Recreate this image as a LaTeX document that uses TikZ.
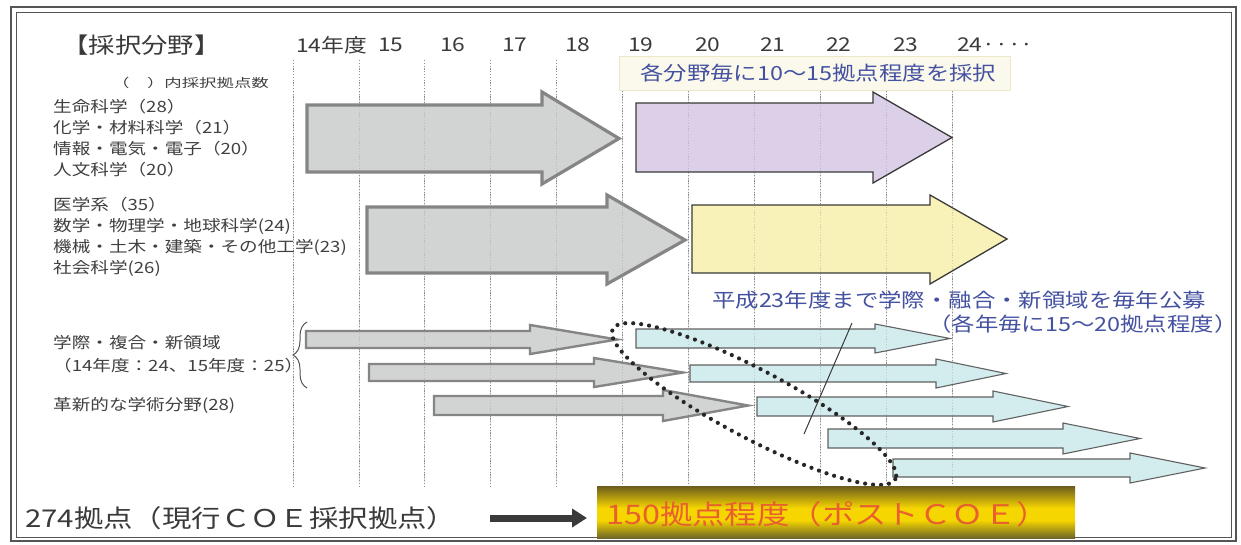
\documentclass[tikz,border=0pt]{standalone}
\usepackage{fontspec}
\setmainfont{Noto Sans CJK JP}[FakeStretch=1.2]
\newfontfamily\widenote{Noto Sans CJK JP}[FakeStretch=1.45]
\usetikzlibrary{decorations.pathreplacing,arrows.meta}
\definecolor{frameC}{HTML}{555555}
\definecolor{gridC}{HTML}{8E8E8E}
\definecolor{grayFill}{HTML}{D2D4D4}
\definecolor{grayLine}{HTML}{858585}
\definecolor{purpFill}{HTML}{DCCFE8}
\definecolor{yelFill}{HTML}{F8F1B8}
\definecolor{cyanFill}{HTML}{D3ECEE}
\definecolor{darkLine}{HTML}{3A3A3A}
\definecolor{blueTxt}{HTML}{4451A0}
\definecolor{txtC}{HTML}{404040}
\definecolor{goldTxt}{HTML}{E8602E}
\definecolor{creamFill}{HTML}{FBF9EC}
\definecolor{creamLine}{HTML}{ECE7C6}
\definecolor{gB}{HTML}{6F6628}
\definecolor{gY}{HTML}{F6D600}
\definecolor{gT}{HTML}{6B5C1C}
% #1 style, #2 x0, #3 top, #4 bottom, #5 head base x, #6 head top, #7 head bottom, #8 tip x
\newcommand{\blockarrow}[8]{\draw[#1] (#2,#3) -- (#5,#3) -- (#5,#6) -- (#8,{(#3+#4)/2}) -- (#5,#7) -- (#5,#4) -- (#2,#4) -- cycle;}
\tikzset{
  grid line/.style={draw=gridC, line width=0.8pt, dash pattern=on 1.2pt off 1.6pt},
  big gray/.style={fill=grayFill, draw=grayLine, line width=3.2pt, line join=miter},
  thin gray/.style={fill=grayFill, draw=grayLine, line width=2.4pt, line join=miter},
  purple arrow/.style={fill=purpFill, draw=darkLine, line width=1.3pt},
  yellow arrow/.style={fill=yelFill, draw=darkLine, line width=1.3pt},
  cyan arrow/.style={fill=cyanFill, draw=darkLine!80, line width=1.1pt},
  hdr/.style={font=\fontsize{22}{22}\selectfont, text=darkLine, inner sep=0pt, anchor=west},
  yr/.style={font=\fontsize{19}{19}\selectfont, text=darkLine, inner sep=0pt, anchor=west},
  lst/.style={font=\fontsize{15.5}{15.5}\selectfont, text=txtC, inner sep=0pt, anchor=west},
  note/.style={font=\widenote\fontsize{12}{12}\selectfont, text=txtC, inner sep=0pt, anchor=west},
  bluetxt/.style={font=\fontsize{19.5}{19.5}\selectfont, text=blueTxt, inner sep=0pt, anchor=west},
  bigtxt/.style={font=\fontsize{24.5}{24.5}\selectfont, text=darkLine, inner sep=0pt, anchor=west},
  goldtxt/.style={font=\fontsize{27}{27}\selectfont, text=goldTxt, inner sep=0pt, anchor=west},
  dotted ring/.style={draw=black!85, line width=4.2pt, line cap=round, dash pattern=on 0pt off 8pt},
}
\begin{document}
\begin{tikzpicture}[x=1pt,y=-1pt]
\useasboundingbox (0,0) rectangle (1241,544);
\fill[white] (0,0) rectangle (1241,544);
% frame
\draw[frameC, line width=1.3pt] (11,7) rectangle (1236,541);
\draw[frameC, line width=0.8pt] (16,12) rectangle (1231,537);
% grid lines
\foreach \k in {0,...,10} {
  \draw[grid line] ({293+65.9*\k},60) -- ({293+65.9*\k},487);
}
% header
\node[hdr] (hdr) at (62,45) {【採択分野】};
\node[yr] (y14) at (296,45) {14年度};
\node[yr] (y15) at (378,45) {15};
\node[yr] (y16) at (440,45) {16};
\node[yr] (y17) at (502,45) {17};
\node[yr] (y18) at (565,45) {18};
\node[yr] (y19) at (628,45) {19};
\node[yr] (y20) at (695,45) {20};
\node[yr] (y21) at (760,45) {21};
\node[yr] (y22) at (826,45) {22};
\node[yr] (y23) at (893,45) {23};
\node[yr] (y24) at (957,45) {24····};
\node[note] (note) at (112,83) {（　）内採択拠点数};
% cream box + blue text
\draw[fill=creamFill, draw=creamLine, line width=0.8pt] (619,56) rectangle (1010,90);
\node[bluetxt] (sel) at (640,73) {各分野毎に10～15拠点程度を採択};
% left lists
\node[lst] (l1) at (53,107) {生命科学（28）};
\node[lst] (l2) at (53,128) {化学・材料科学（21）};
\node[lst] (l3) at (53,149) {情報・電気・電子（20）};
\node[lst] (l4) at (53,170) {人文科学（20）};
\node[lst] (l5) at (53,205) {医学系（35）};
\node[lst] (l6) at (53,226) {数学・物理学・地球科学(24)};
\node[lst] (l7) at (53,247) {機械・土木・建築・その他工学(23)};
\node[lst] (l8) at (53,268) {社会科学(26)};
\node[lst] (l9) at (53,343) {学際・複合・新領域};
\node[lst] (l10) at (53,366) {（14年度：24、15年度：25）};
\node[lst] (l11) at (53,405) {革新的な学術分野(28)};
% brace
\draw[frameC, line width=1pt, decorate, decoration={brace, amplitude=14pt}] (307,388) -- (307,322);
% big arrows
\blockarrow{big gray}{307}{105}{172}{542}{92}{184}{619}
\blockarrow{purple arrow}{636}{103}{172}{873}{92}{183}{952}
\blockarrow{big gray}{367}{207}{273}{607}{195}{284}{685}
\blockarrow{yellow arrow}{692}{205}{273}{930}{195}{284}{1007}
% thin gray arrows
\blockarrow{thin gray}{306}{331}{348}{530}{325}{354}{617}
\blockarrow{thin gray}{369}{364}{381}{594}{358}{387}{683}
\blockarrow{thin gray}{434}{396}{415}{663}{390}{421}{748}
% cyan arrows
\blockarrow{cyan arrow}{636}{329}{348}{875}{324}{353}{950}
\blockarrow{cyan arrow}{690}{365}{382}{936}{359}{388}{1006}
\blockarrow{cyan arrow}{757}{397}{416}{993}{391}{422}{1068}
\blockarrow{cyan arrow}{828}{429}{448}{1063}{423}{454}{1140}
\blockarrow{cyan arrow}{893}{459}{477}{1130}{453}{483}{1205}
% faint grid over arrows
\foreach \k in {0,...,10} {
  \draw[grid line, opacity=0.35] ({293+65.9*\k},92) -- ({293+65.9*\k},484);
}
% announcement text
\node[bluetxt] (ann1) at (712,300) {平成23年度まで学際・融合・新領域を毎年公募};
\node[bluetxt] (ann2) at (928,324) {（各年毎に15～20拠点程度）};
\coordinate (leadA) at (852,323);
\coordinate (leadB) at (804,434);
\draw[darkLine, line width=1pt] (leadA) -- (leadB);
% dotted ellipse
\draw[dotted ring, rotate around={-28:(754,404)}] (754,404) ellipse [x radius=160, y radius=34];
% bottom
\node[bigtxt] (now) at (25,518) {274拠点（現行ＣＯＥ採択拠点）};
\shade[top color=gT, bottom color=gY] (597,486) rectangle (1075,508);
\fill[gY] (597,507.5) rectangle (1075,520.5);
\shade[top color=gY, bottom color=gB] (597,520) rectangle (1075,538);
\node[goldtxt] (post) at (606,514) {150拠点程度（ポストＣＯＥ）};
\coordinate (arrA) at (490,518);
\coordinate (arrB) at (587,518);
\draw[darkLine, line width=7pt, -{Triangle[length=15pt,width=18pt]}] (arrA) -- (arrB);
\end{tikzpicture}
\end{document}
